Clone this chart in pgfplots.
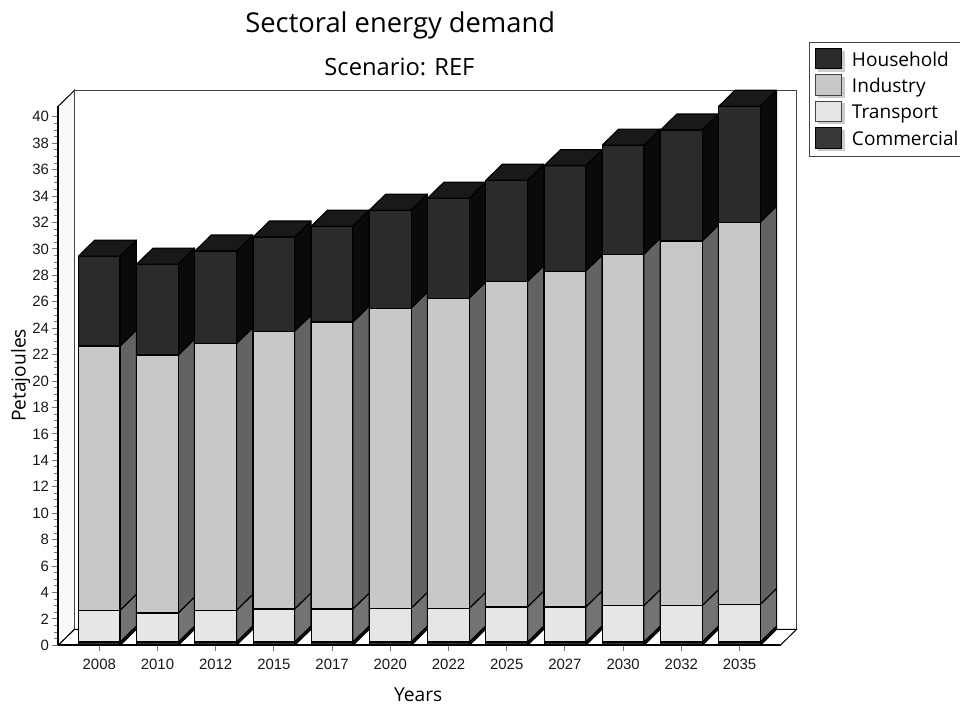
\documentclass[border=0pt]{standalone}
\usepackage{pgfplots}
\usepackage{pgfplotstable}
\usepackage{fontspec}
\pgfplotsset{compat=1.18}
\setmainfont{Liberation Sans}
\newfontfamily\labelfont{Open Sans}

% face colours of the four sectors
\definecolor{householdfront}{HTML}{2B2B2B}
\definecolor{householdside}{HTML}{0A0A0A}
\definecolor{householdtop}{HTML}{191919}
\definecolor{industryfront}{HTML}{C8C8C8}
\definecolor{industryside}{HTML}{636363}
\definecolor{transportfront}{HTML}{E6E6E6}
\definecolor{transportside}{HTML}{737373}
\definecolor{commercialfront}{HTML}{383838}
\definecolor{commercialside}{HTML}{111111}
\definecolor{wallline}{HTML}{444444}
\definecolor{tickgrey}{HTML}{777777}

% Sectoral demand in petajoules
\pgfplotstableread{
year commercial transport industry household
2008 0.25 2.40 20.00 6.81
2010 0.25 2.20 19.52 6.88
2012 0.25 2.40 20.19 7.00
2015 0.25 2.50 21.03 7.12
2017 0.25 2.50 21.72 7.26
2020 0.25 2.55 22.72 7.42
2022 0.25 2.55 23.48 7.57
2025 0.25 2.65 24.63 7.67
2027 0.25 2.65 25.42 7.98
2030 0.25 2.75 26.61 8.25
2032 0.25 2.75 27.60 8.40
2035 0.25 2.85 28.93 8.77
}\sectordata

% depth of the oblique projection, in axis units
\def\depthx{0.28}
\def\depthy{1.211}
\def\halfbar{0.357}

% one stacked block: #1 centre, #2 lower value, #3 upper value, #4 front, #5 side
\newcommand{\blockfaces}[5]{%
  \pgfmathsetmacro{\xl}{#1-\halfbar}%
  \pgfmathsetmacro{\xr}{#1+\halfbar}%
  \pgfmathsetmacro{\xs}{\xr+\depthx}%
  \pgfmathsetmacro{\ylo}{#2+\depthy}%
  \pgfmathsetmacro{\yhi}{#3+\depthy}%
  \edef\temp{\noexpand\addplot[forget plot,fill=#5,draw=black,line width=0.85pt,line join=round]
    coordinates {(\xr,#2) (\xs,\ylo) (\xs,\yhi) (\xr,#3) (\xr,#2)};
    \noexpand\addplot[forget plot,fill=#4,draw=black,line width=0.85pt,line join=round]
    coordinates {(\xl,#2) (\xr,#2) (\xr,#3) (\xl,#3) (\xl,#2)};}%
  \temp
}
% lid of a bar: #1 centre, #2 height
\newcommand{\blocklid}[2]{%
  \pgfmathsetmacro{\xl}{#1-\halfbar}%
  \pgfmathsetmacro{\xr}{#1+\halfbar}%
  \pgfmathsetmacro{\xs}{\xr+\depthx}%
  \pgfmathsetmacro{\xt}{\xl+\depthx}%
  \pgfmathsetmacro{\yhi}{#2+\depthy}%
  \edef\temp{\noexpand\addplot[forget plot,fill=householdtop,draw=black,line width=0.85pt,line join=round]
    coordinates {(\xl,#2) (\xr,#2) (\xs,\yhi) (\xt,\yhi) (\xl,#2)};}%
  \temp
}

\begin{document}
\begin{tikzpicture}
\path[use as bounding box] (0,0) rectangle (720pt,529.5pt);
\begin{axis}[
  at={(43.7pt,45.5pt)}, anchor=south west,
  scale only axis, width=541.5pt, height=404.3pt,
  xmin=-0.7045, xmax=11.70, ymin=0, ymax=40.8,
  clip=false, axis on top,
  axis x line*=bottom, axis y line*=left,
  axis line style={black,line width=1.6pt,-},
  xtick={0,...,11},
  xticklabels={2008,2010,2012,2015,2017,2020,2022,2025,2027,2030,2032,2035},
  ytick={0,2,...,40}, minor y tick num=3,
  tick align=outside,
  major tick length=4.5pt, minor tick length=3.4pt,
  tick style={tickgrey,line width=0.75pt},
  /pgf/number format/assume math mode=true,
  tick label style={font=\fontsize{11.2}{12}\selectfont,text=black!90},
  xticklabel style={yshift=-2.2pt},
  yticklabel style={xshift=1pt},
  xlabel={Years}, ylabel={Petajoules},
  label style={font=\labelfont\fontsize{14.4}{16}\selectfont},
  xlabel style={at={(axis description cs:0.4986,-0.0922)},anchor=center},
  ylabel style={at={(axis description cs:-0.052,0.5006)},anchor=center},
  title={Sectoral energy demand},
  every axis title shift=0pt,
  title style={at={(axis description cs:0.4737,1.1495)},anchor=center,
    font=\labelfont\fontsize{20.5}{23}\selectfont},
  legend cell align=left,
  legend style={at={(axis description cs:1.0397,1.1199)},anchor=north west,
    draw=wallline,line width=0.75pt,fill=white,
    font=\labelfont\fontsize{14.3}{16}\selectfont,
    inner xsep=4pt,inner ysep=4.5pt,row sep=2.1pt},
  legend image code/.code={%
    \fill[black!20] (0.08cm,-0.30cm) rectangle (0.76cm,0.23cm);
    \draw[#1,line width=0.75pt] (0cm,-0.24cm) rectangle (0.68cm,0.295cm);
    \path (0.884cm,0cm);
  },
]
% side, back and floor of the frame
\addplot[forget plot,fill=black!2,draw=black,line width=0.75pt]
  coordinates {(-0.7045,0) (-0.4245,1.211) (-0.4245,42.011) (-0.7045,40.8) (-0.7045,0)};
\addplot[forget plot,fill=white,draw=wallline,line width=0.85pt]
  coordinates {(-0.4245,1.211) (11.98,1.211) (11.98,42.011) (-0.4245,42.011) (-0.4245,1.211)};
\addplot[forget plot,fill=white,draw=black,line width=0.75pt]
  coordinates {(-0.7045,0) (11.70,0) (11.98,1.211) (-0.4245,1.211) (-0.7045,0)};

% the bars, left to right and bottom to top
\pgfplotsinvokeforeach{0,...,11}{
  \pgfplotstablegetelem{#1}{commercial}\of\sectordata \let\vc\pgfplotsretval
  \pgfplotstablegetelem{#1}{transport}\of\sectordata \let\vt\pgfplotsretval
  \pgfplotstablegetelem{#1}{industry}\of\sectordata \let\vi\pgfplotsretval
  \pgfplotstablegetelem{#1}{household}\of\sectordata \let\vh\pgfplotsretval
  \pgfmathsetmacro{\sa}{\vc}
  \pgfmathsetmacro{\sb}{\sa+\vt}
  \pgfmathsetmacro{\sc}{\sb+\vi}
  \pgfmathsetmacro{\sd}{\sc+\vh}
  \let\ca\sa \let\cb\sb \let\cc\sc \let\cd\sd
  \blockfaces{#1}{0}{\ca}{commercialfront}{commercialside}
  \blockfaces{#1}{\ca}{\cb}{transportfront}{transportside}
  \blockfaces{#1}{\cb}{\cc}{industryfront}{industryside}
  \blockfaces{#1}{\cc}{\cd}{householdfront}{householdside}
  \blocklid{#1}{\cd}
}

\addlegendimage{fill=householdfront,draw=black}
\addlegendentry{Household}
\addlegendimage{fill=industryfront,draw=wallline}
\addlegendentry{Industry}
\addlegendimage{fill=transportfront,draw=wallline}
\addlegendentry{Transport}
\addlegendimage{fill=commercialfront,draw=black}
\addlegendentry{Commercial}
\end{axis}
\node[font=\labelfont\fontsize{17.8}{20}\selectfont] at (299.6pt,479.2pt) {Scenario: REF};
\end{tikzpicture}
\end{document}
